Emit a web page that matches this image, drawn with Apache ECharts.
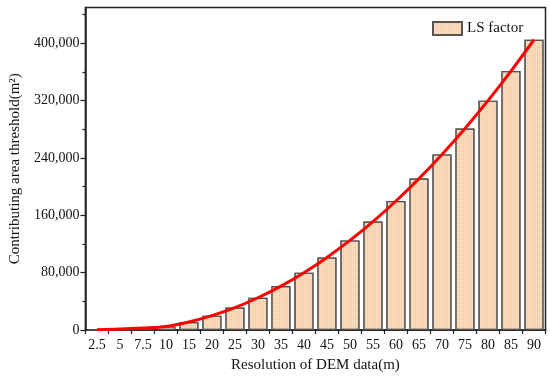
<!DOCTYPE html>
<html>
<head>
<meta charset="utf-8">
<script src="https://cdn.jsdelivr.net/npm/echarts@6/dist/echarts.min.js"></script>
<style>html,body{margin:0;padding:0;background:#fff}#c{width:550px;height:378px}</style>
</head>
<body>
<div id="c"></div>
<script>
var categories = ['2.5','5','7.5','10','15','20','25','30','35','40','45','50','55','60','65','70','75','80','85','90'];
var barValues = [312, 1250, 2810, 5000, 11250, 20000, 31250, 45000, 61250, 80000, 101250, 125000, 151250, 180000, 211250, 245000, 281250, 320000, 361250, 405000];
var curveValues = [312, 1250, 2810, 5000, 11250, 20000, 31250, 45000, 61250, 80000, 101250, 125000, 151250, 180000, 211250, 245000, 281250, 320000, 361250, 405000];
var yMajorTicks = [0, 80000, 160000, 240000, 320000, 400000];
var yMinorTicks = [40000, 120000, 200000, 280000, 360000, 440000];
var seriesName = 'LS factor';

var FONT = '"Liberation Serif", "Times New Roman", serif';
var chart = echarts.init(document.getElementById('c'));
chart.setOption({
  animation: false,
  grid: {left: 76, right: 4.5, top: 7.5, bottom: 43, show: true, borderColor: '#222', borderWidth: 1.5, backgroundColor: 'transparent'},
  legend: {
    data: [seriesName], left: 427, top: 16, itemWidth: 29, itemHeight: 13, itemGap: 5,
    textStyle: {fontFamily: FONT, fontSize: 15, color: '#111', padding: [0,0,0,0]},
    icon: 'rect'
  },
  xAxis: [{
    type: 'category', data: categories, position: 'bottom',
    name: 'Resolution of DEM data(m)', nameLocation: 'middle', nameGap: 28,
    nameTextStyle: {fontFamily: FONT, fontSize: 15, color: '#111'},
    axisLine: {lineStyle: {color: '#222', width: 1.5}},
    axisTick: {alignWithLabel: true, length: 5, lineStyle: {color: '#222', width: 1.2}},
    axisLabel: {fontFamily: FONT, fontSize: 14, color: '#111', margin: 8, interval: 0}
  }, {
    type: 'category', data: categories, position: 'bottom', offset: 0,
    axisLine: {show: false},
    axisTick: {show: true, length: 4, lineStyle: {color: '#222', width: 1.2}},
    axisLabel: {show: false}
  }],
  yAxis: [{
    type: 'value', min: 0, max: 450000, position: 'left',
    name: 'Contributing area threshold(m²)', nameLocation: 'middle', nameGap: 58,
    nameTextStyle: {fontFamily: FONT, fontSize: 15, color: '#111'},
    axisLine: {show: true, lineStyle: {color: '#222', width: 1.5}},
    axisTick: {show: true, length: 5, customValues: yMajorTicks, lineStyle: {color: '#222', width: 1.2}},
    axisLabel: {fontFamily: FONT, fontSize: 14, color: '#111', margin: 6, customValues: yMajorTicks,
      formatter: function (v) { return v.toLocaleString('en-US'); }},
    splitLine: {show: false}
  }, {
    type: 'value', min: 0, max: 450000, position: 'left', offset: 0,
    axisLine: {show: false},
    axisTick: {show: true, length: 3, customValues: yMinorTicks, lineStyle: {color: '#222', width: 1.2}},
    axisLabel: {show: false, customValues: yMinorTicks},
    splitLine: {show: false}
  }],
  series: [{
    name: seriesName, type: 'bar', data: barValues, barWidth: '83%',
    itemStyle: {
      color: '#F6D3AE', borderColor: '#555', borderWidth: 1.2,
      decal: {symbol: 'rect', symbolSize: 1, dashArrayX: [1, 1], dashArrayY: [1, 1], color: 'rgba(255,240,225,0.7)', rotation: 0}
    }
  }, {
    name: 'curve', type: 'line', data: curveValues, smooth: 0.35, showSymbol: false,
    lineStyle: {color: '#FF0000', width: 3}, z: 5
  }]
});
</script>
</body>
</html>
